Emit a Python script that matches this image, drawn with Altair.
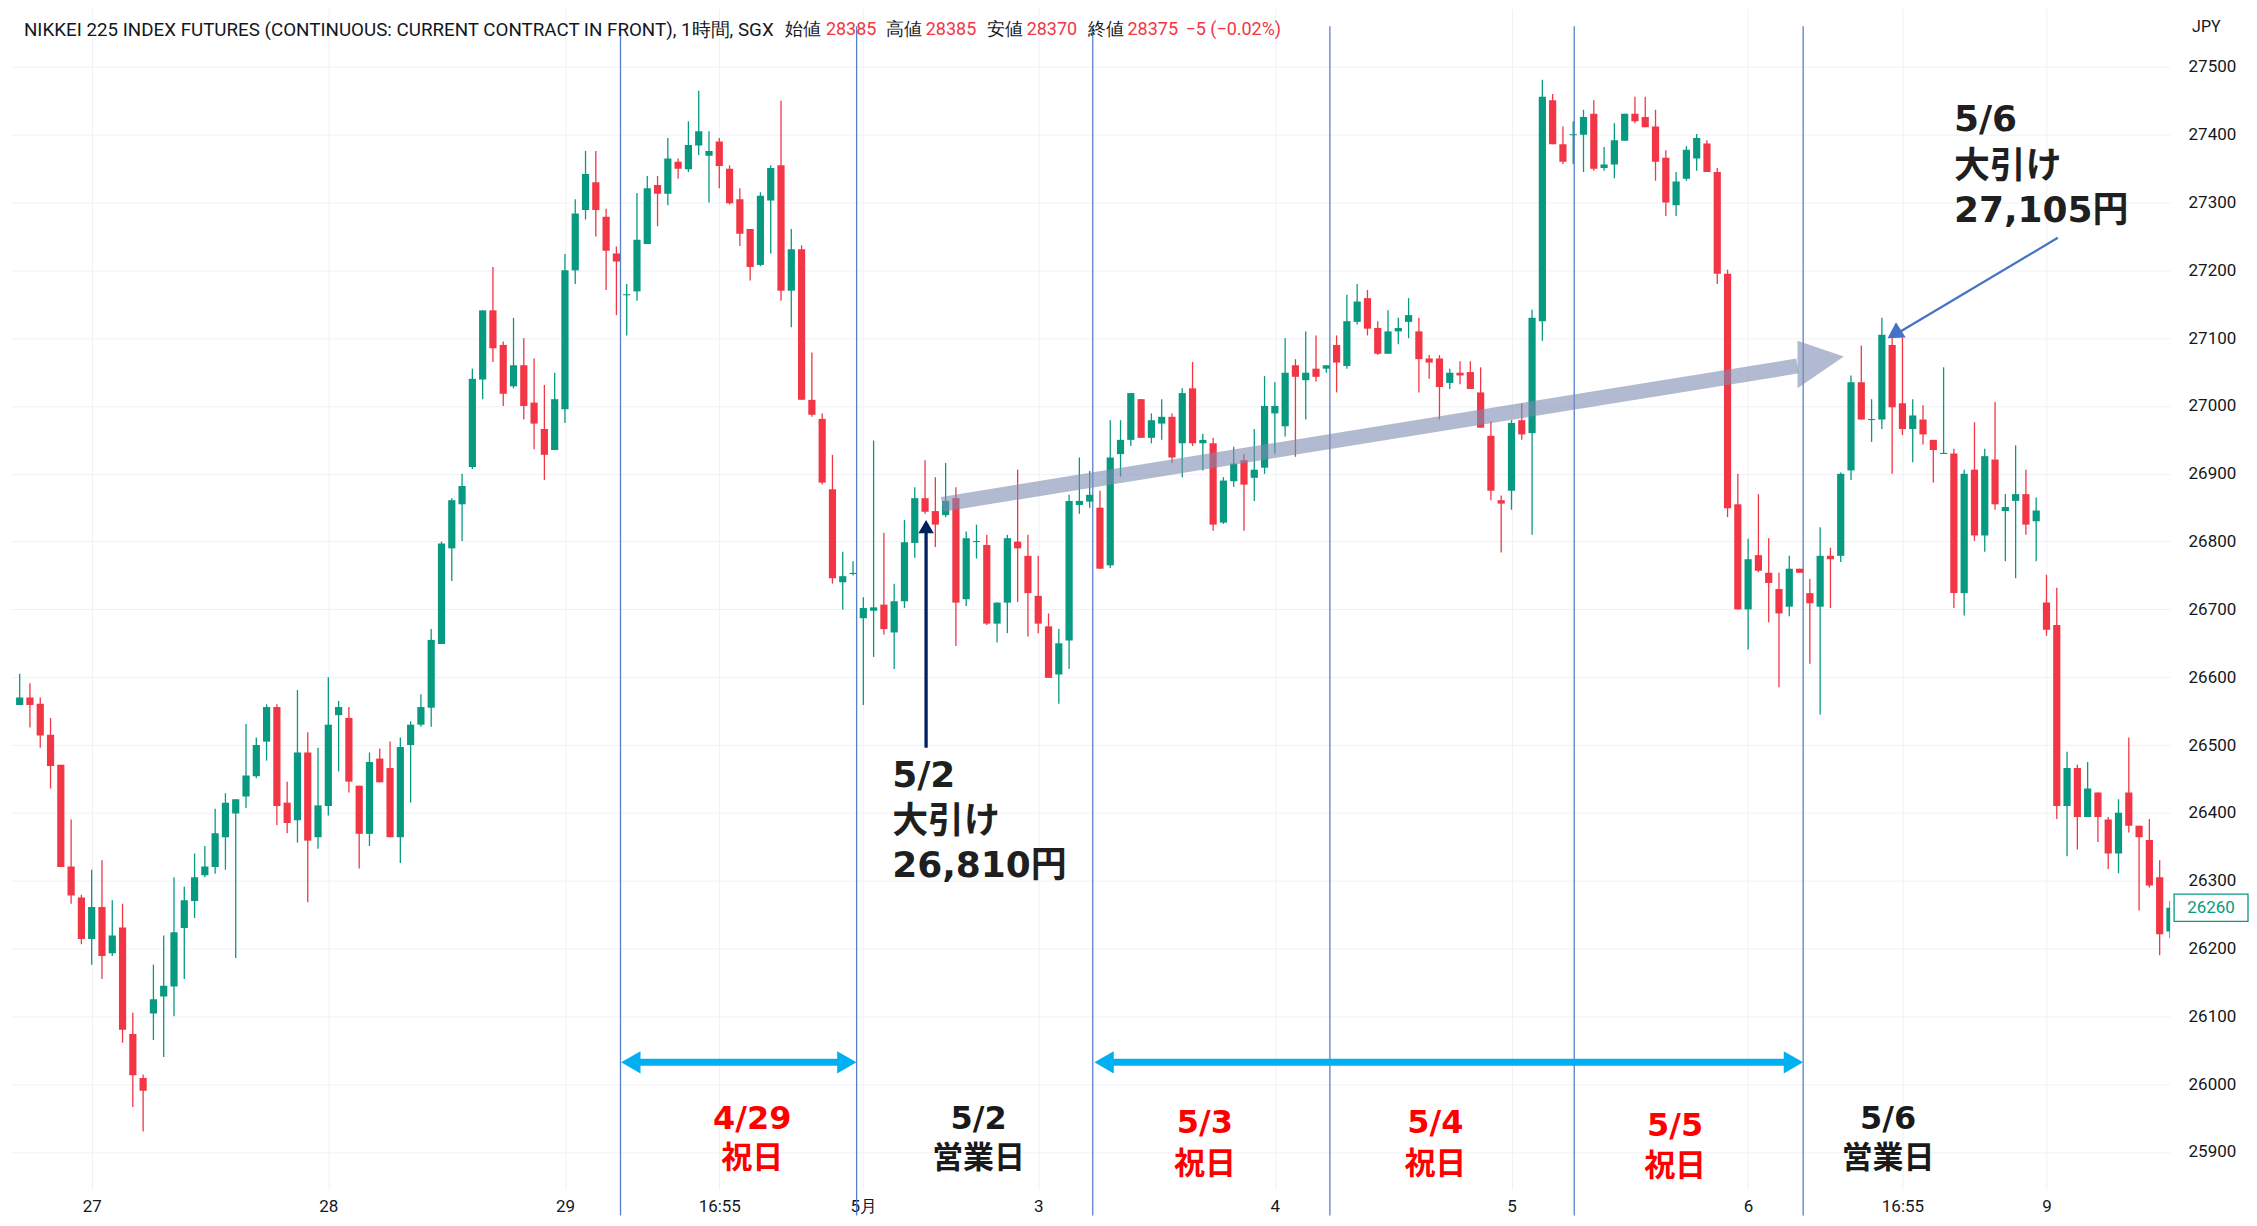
import altair as alt
import pandas as pd
import numpy as np

# ---------------- candle data (hourly) ----------------
opens = [26559,26570,26561,26515,26471,26321,26275,26214,26261,26193,
26231,26074,26009,26104,26129,26144,26230,26270,26308,26320,
26364,26399,26424,26454,26505,26556,26415,26389,26489,26364,
26410,26544,26540,26440,26369,26480,26466,26364,26500,26530,
26555,26649,26790,26855,26910,27039,27141,27090,27029,27060,
27005,26966,26935,26995,27200,27289,27330,27279,27225,27164,
27169,27239,27326,27313,27360,27349,27384,27369,27390,27350,
27305,27261,27208,27303,27355,27170,27231,27009,26981,26877,
26740,26753,26687,26698,26707,26666,26712,26798,26864,26845,
26839,26864,26715,26800,26795,26679,26710,26800,26779,26720,
26675,26604,26654,26854,26859,26850,26765,26929,26950,27010,
26953,26974,26984,26945,27026,26945,26945,26828,26889,26920,
26894,26909,26989,26970,27060,27038,27055,27055,27090,27059,
27124,27159,27115,27077,27110,27124,27110,27070,27070,27034,
27049,27050,27020,26956,26861,26875,26979,26960,27125,27451,
27386,27400,27400,27431,27351,27356,27391,27431,27426,27412,
27366,27296,27335,27365,27387,27345,27195,26855,26700,26780,
26754,26730,26704,26760,26724,26704,26779,26779,26905,27035,
26980,26980,27090,27004,26966,26980,26950,26930,26930,26724,
26906,26809,26921,26845,26860,26870,26830,26710,26677,26410,
26466,26394,26430,26390,26340,26430,26381,26360,26305,26225]

highs = [26605,26591,26570,26540,26471,26390,26279,26316,26330,26271,
26266,26105,26014,26176,26219,26305,26291,26340,26351,26406,
26429,26420,26531,26511,26560,26560,26446,26581,26519,26496,
26600,26565,26556,26440,26489,26495,26505,26511,26535,26575,
26671,26800,26864,26900,27055,27141,27205,27095,27130,27100,
27070,27031,27049,27224,27305,27376,27376,27291,27235,27180,
27314,27339,27339,27395,27365,27420,27465,27405,27395,27355,
27321,27261,27315,27355,27450,27261,27237,27079,26989,26928,
26785,26771,26718,26949,26813,26738,26832,26880,26920,26895,
26916,26880,26815,26825,26810,26710,26810,26906,26810,26779,
26694,26671,26869,26924,26904,26875,26979,26979,27019,27010,
26989,27010,26989,27026,27065,26959,26953,26895,26940,26929,
26966,27044,27035,27100,27069,27110,27104,27060,27104,27164,
27180,27171,27125,27141,27130,27159,27130,27075,27075,27055,
27066,27066,27057,26977,26868,26979,27004,27142,27481,27460,
27412,27420,27437,27451,27382,27417,27431,27456,27456,27437,
27377,27345,27383,27401,27392,27351,27201,26900,26804,26870,
26805,26754,26779,26760,26745,26821,26791,26902,27045,27089,
27010,27130,27101,27101,27010,27001,26950,27057,26937,26906,
26976,26937,27006,26870,26942,26906,26865,26751,26732,26490,
26471,26475,26430,26394,26420,26511,26381,26391,26330,26270]

lows = [26559,26526,26496,26436,26320,26266,26206,26176,26155,26189,
26061,25966,25930,26065,26040,26100,26155,26245,26305,26310,
26316,26186,26407,26451,26477,26382,26370,26356,26268,26347,
26396,26461,26430,26318,26351,26445,26364,26326,26415,26527,
26527,26649,26742,26801,26907,27010,27065,27000,27026,26980,
26936,26891,26935,26975,27180,27275,27250,27171,27134,27104,
27155,27239,27265,27296,27335,27345,27370,27300,27321,27297,
27236,27185,27206,27225,27155,27116,27009,26984,26884,26738,
26700,26750,26559,26630,26663,26612,26702,26776,26841,26792,
26836,26646,26705,26775,26677,26651,26665,26711,26660,26665,
26599,26561,26612,26841,26850,26760,26761,26896,26941,26953,
26945,26950,26916,26895,26941,26905,26816,26826,26881,26816,
26860,26900,26930,26955,26925,26980,27036,27049,27020,27055,
27120,27104,27075,27077,27091,27100,27020,27040,26980,27025,
27032,27025,26968,26861,26784,26847,26950,26810,27096,27386,
27357,27357,27345,27347,27347,27336,27391,27417,27411,27332,
27280,27280,27332,27347,27345,27180,26836,26700,26641,26755,
26681,26585,26690,26754,26620,26545,26702,26770,26891,26980,
26947,26966,26900,26957,26917,26943,26887,26930,26702,26691,
26801,26785,26847,26771,26746,26810,26771,26661,26391,26336,
26346,26394,26357,26317,26311,26371,26256,26290,26190,26215]

closes = [26570,26559,26514,26469,26320,26278,26214,26261,26189,26219,
26080,26013,25990,26125,26145,26224,26271,26305,26321,26370,
26415,26420,26455,26500,26556,26410,26385,26489,26359,26411,
26530,26556,26446,26369,26475,26445,26364,26497,26530,26556,
26655,26797,26861,26882,27040,27141,27085,27018,27060,27000,
26974,26928,27010,27200,27284,27342,27289,27229,27213,27164,
27245,27321,27313,27365,27350,27385,27405,27376,27354,27299,
27254,27205,27310,27351,27170,27231,27009,26987,26887,26746,
26749,26753,26702,26703,26671,26712,26799,26864,26844,26825,
26860,26710,26805,26800,26679,26710,26805,26790,26724,26679,
26599,26650,26860,26860,26869,26760,26924,26950,27019,26953,
26979,26984,26924,27019,26945,26950,26825,26890,26915,26884,
26906,27000,27000,27049,27043,27049,27043,27060,27064,27125,
27154,27114,27077,27110,27115,27134,27069,27064,27028,27049,
27045,27025,26968,26875,26856,26975,26958,27130,27456,27386,
27360,27400,27426,27350,27356,27392,27431,27420,27411,27360,
27300,27331,27378,27395,27345,27195,26849,26700,26774,26757,
26739,26694,26760,26754,26709,26779,26774,26900,27035,26980,
26980,27105,26998,26966,26986,26958,26935,26930,26724,26900,
26809,26926,26855,26851,26870,26825,26846,26670,26410,26466,
26394,26436,26394,26340,26400,26381,26364,26293,26221,26260]

# time-axis labels (at bar index)
tick_idx = [8, 31, 54, 69, 83, 100, 123, 146, 169, 184, 198]
tick_lab = ["27", "28", "29", "16:55", "5月", "3", "4", "5", "6", "16:55", "9"]
price_ticks = list(range(25900, 27501, 100))

# annotation contents
day_lines = [59.4, 82.35, 105.3, 128.35, 152.1, 174.35]
hol_top = ["4/29", "5/2", "5/3", "5/4", "5/5", "5/6"]
hol_bot = ["祝日", "営業日", "祝日", "祝日", "祝日", "営業日"]
hol_col = ["#FF0000", "#1A1A1A", "#FF0000", "#FF0000", "#FF0000", "#1A1A1A"]
hol_n = [72.2, 94.2, 116.2, 138.6, 161.9, 182.6]
hol_p1 = [25949, 25949, 25942, 25942, 25938, 25949]
hol_p2 = [25889, 25889, 25881, 25881, 25877, 25889]
note1 = ["5/2", "大引け", "26,810円"]
note2 = ["5/6", "大引け", "27,105円"]
note1_p = [26455, 26387, 26322]
note2_p = [27422, 27352, 27288]
header_txt = ["NIKKEI 225 INDEX FUTURES (CONTINUOUS: CURRENT CONTRACT IN FRONT), 1時間, SGX",
              "始値", "28385", "高値", "28385", "安値", "28370", "終値", "28375", "−5 (−0.02%)"]
header_col = ["#131722", "#131722", "#F23645", "#131722", "#F23645", "#131722", "#F23645",
              "#131722", "#F23645", "#F23645"]
header_px = [13, 775, 816, 876, 916, 977, 1017, 1078, 1118, 1176]
header_fs = [18.8, 18, 18, 18, 18, 18, 18, 18, 18, 18]
last_price = 26260

GREEN, RED = "#089981", "#F23645"
W, H = 2162, 1182
xs = alt.Scale(domain=[0.6425, 209.53], nice=False, zero=False)
ys = alt.Scale(domain=[25844.9, 27585.7], nice=False, zero=False)

df = pd.DataFrame({"i": np.arange(1, len(opens) + 1), "o": opens, "h": highs, "l": lows, "c": closes})
df["dir"] = np.where(df.c >= df.o, "up", "down")
hi = df[["o", "c"]].max(axis=1)
lo = df[["o", "c"]].min(axis=1)
mid = (hi + lo) / 2
thin = (hi - lo) < 1.6
df["bt"] = np.where(thin, mid + 0.8, hi)
df["bb"] = np.where(thin, mid - 0.8, lo)

expr = "''"
for v, l in reversed(list(zip(tick_idx, tick_lab))):
    expr = f"datum.value == {v} ? '{l}' : ({expr})"

color = alt.Color("dir:N", scale=alt.Scale(domain=["up", "down"], range=[GREEN, RED]), legend=None)

xaxis = alt.Axis(values=tick_idx, labelExpr=expr, title=None, grid=True, gridColor="#EFF1F6",
                 domain=False, ticks=False, labelFontSize=17, labelColor="#131722", labelFont="Roboto",
                 labelPadding=9, labelOverlap=False, labelFlush=False)
yaxis = alt.Axis(orient="right", values=price_ticks, format="d", title=None, grid=True,
                 gridColor="#EFF1F6", domain=False, ticks=False, labelFontSize=17,
                 labelColor="#131722", labelFont="Roboto", labelPadding=18, labelAlign="left",
                 labelOverlap=False)


def X(f):
    return alt.X(f, scale=xs, axis=xaxis)


def Y(f):
    return alt.Y(f, scale=ys, axis=yaxis)


base = alt.Chart(df)
wicks = base.mark_rule(strokeWidth=1.3, clip=True).encode(
    x=X("i:Q"), y=Y("l:Q"), y2="h:Q", color=color)
bodies = base.mark_bar(size=7.2, clip=True).encode(
    x=X("i:Q"), y=Y("bb:Q"), y2="bt:Q", color=color)

# blue vertical day separators
vl = alt.Chart(pd.DataFrame({"n": day_lines, "p1": [27560] * 6, "p2": [25806] * 6})).mark_rule(
    color="#4472C4", strokeWidth=1.3, opacity=0.9).encode(x=X("n:Q"), y=Y("p1:Q"), y2="p2:Q")

# big translucent trend arrow
shaft = alt.Chart(pd.DataFrame({"n1": [90.66], "n2": [173.8], "p1": [26855], "p2": [27059]})).mark_rule(
    color="#7D8CB2", strokeWidth=15, opacity=0.6, strokeCap="butt").encode(
    x=X("n1:Q"), x2="n2:Q", y=Y("p1:Q"), y2="p2:Q")
head = alt.Chart(pd.DataFrame({"n": [173.8, 178.3], "t": [27096, 27073], "b": [27026, 27073]})).mark_area(
    color="#7D8CB2", opacity=0.6).encode(x=X("n:Q"), y=Y("t:Q"), y2="b:Q")

# navy up arrow (5/2 close)
navy = alt.Chart(pd.DataFrame({"n": [89.1], "p1": [26496], "p2": [26815]})).mark_rule(
    color="#002060", strokeWidth=3.3).encode(x=X("n:Q"), y=Y("p1:Q"), y2="p2:Q")
navy_h = alt.Chart(pd.DataFrame({"n": [89.1], "p": [26822]})).mark_point(
    shape="triangle-up", filled=True, size=240, color="#002060", opacity=1).encode(
    x=X("n:Q"), y=Y("p:Q"))

# thin blue arrow (5/6 close)
blue = alt.Chart(pd.DataFrame({"n1": [199.1], "n2": [183.6], "p1": [27248], "p2": [27108]})).mark_rule(
    color="#4472C4", strokeWidth=2.2).encode(x=X("n1:Q"), x2="n2:Q", y=Y("p1:Q"), y2="p2:Q")
blue_h = alt.Chart(pd.DataFrame({"n": [183.2], "p": [27106]})).mark_point(
    shape="triangle-right", filled=True, size=330, angle=147.5, color="#4472C4", opacity=1).encode(
    x=X("n:Q"), y=Y("p:Q"))

# double arrows for holiday spans
span = pd.DataFrame({"n1": [60.8, 106.8], "n2": [81.0, 173.0], "p": [26032, 26032]})
spans = alt.Chart(span).mark_rule(color="#00B0F0", strokeWidth=7).encode(
    x=X("n1:Q"), x2="n2:Q", y=Y("p:Q"))
lh = alt.Chart(pd.DataFrame({"n": [60.4, 106.4], "p": [26032, 26032]})).mark_point(
    shape="triangle-left", filled=True, size=500, color="#00B0F0", opacity=1).encode(
    x=X("n:Q"), y=Y("p:Q"))
rh = alt.Chart(pd.DataFrame({"n": [81.4, 173.4], "p": [26032, 26032]})).mark_point(
    shape="triangle-right", filled=True, size=500, color="#00B0F0", opacity=1).encode(
    x=X("n:Q"), y=Y("p:Q"))

# holiday / business-day labels
FONT_B = "DejaVu Sans, Noto Sans CJK JP"
hol = pd.DataFrame({"n": hol_n, "p1": hol_p1, "p2": hol_p2, "t1": hol_top, "t2": hol_bot, "col": hol_col})
hol1 = alt.Chart(hol).mark_text(font=FONT_B, fontWeight="bold", fontSize=32).encode(
    x=X("n:Q"), y=Y("p1:Q"), text="t1:N", color=alt.Color("col:N", scale=None))
hol2 = alt.Chart(hol).mark_text(font="Noto Sans CJK JP", fontWeight="bold", fontSize=31).encode(
    x=X("n:Q"), y=Y("p2:Q"), text="t2:N", color=alt.Color("col:N", scale=None))

notes = pd.DataFrame({"n": [85.8] * 3 + [189.0] * 3, "p": note1_p + note2_p, "t": note1 + note2})
notes_t = alt.Chart(notes).mark_text(font=FONT_B, fontWeight="bold", fontSize=36,
                                     align="left", color="#1F1F1F").encode(
    x=X("n:Q"), y=Y("p:Q"), text="t:N")

# header line
hdr = pd.DataFrame({"px": header_px, "t": header_txt, "col": header_col, "fs": header_fs})
header = alt.Chart(hdr).mark_text(font="Roboto", align="left", baseline="middle").encode(
    x=alt.X("px:Q", scale=None), y=alt.value(21), text="t:N",
    color=alt.Color("col:N", scale=None), size=alt.Size("fs:Q", scale=None))

jpy = alt.Chart(pd.DataFrame({"t": ["JPY"]})).mark_text(
    font="Roboto", fontSize=16, align="left", color="#131722").encode(
    x=alt.value(W + 22), y=alt.value(18), text="t:N")

lp = pd.DataFrame({"p": [last_price], "a": [last_price + 20], "b": [last_price - 20]})
box = alt.Chart(lp).mark_rect(fill="white", stroke=GREEN, strokeWidth=1.3).encode(
    x=alt.value(W + 4), x2=alt.value(W + 78), y=Y("a:Q"), y2="b:Q")
boxt = alt.Chart(lp).mark_text(font="Roboto", fontSize=17, color=GREEN).encode(
    x=alt.value(W + 41), y=Y("p:Q"), text=alt.Text("p:Q", format="d"))

chart = alt.layer(
    wicks, vl, bodies, shaft, head, navy, navy_h, blue, blue_h, spans, lh, rh,
    hol1, hol2, notes_t, header, jpy, box, boxt
).properties(
    width=W, height=H, padding={"left": 3, "top": 0, "right": 0, "bottom": 0}, background="white"
).configure_view(strokeWidth=0)

chart.save("out.html", embed_options={"renderer": "svg", "actions": False})
